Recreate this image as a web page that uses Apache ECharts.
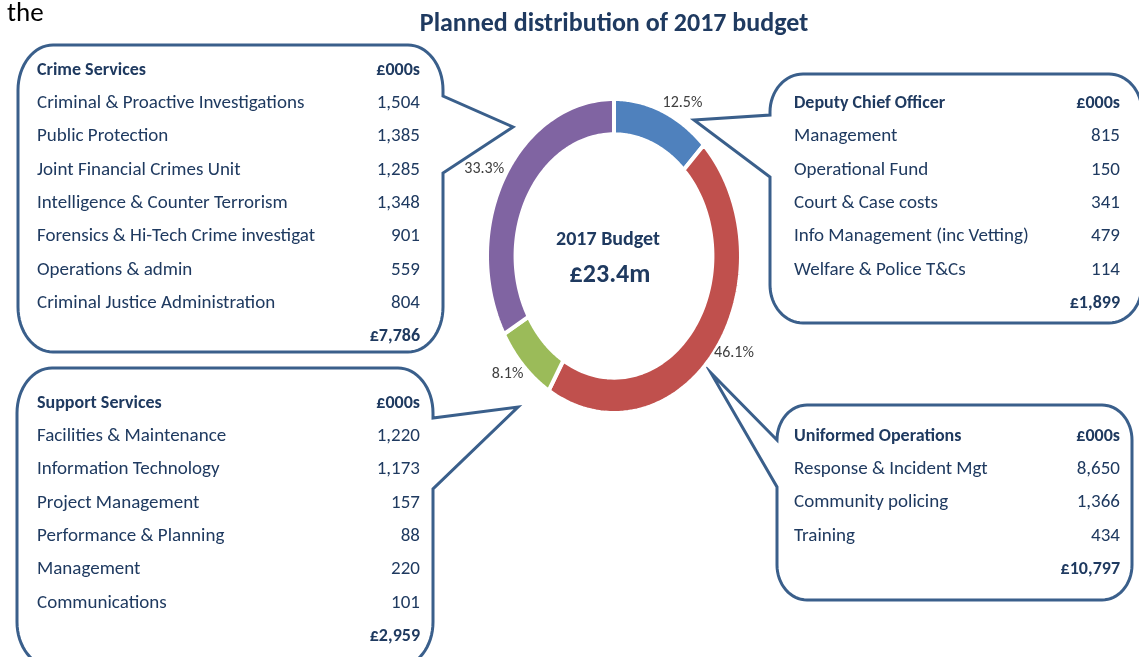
<!DOCTYPE html>
<html><head><meta charset="utf-8">
<script src="https://cdn.jsdelivr.net/npm/echarts@6/dist/echarts.min.js"></script>
<style>html,body{margin:0;padding:0;background:#fff}#c{width:1139px;height:657px}</style>
</head><body><div id="c"></div>
<script>
// ---- data ----
const sliceLabels = ['12.5%', '46.1%', '8.1%', '33.3%'];
const sliceValues = [12.5, 46.1, 8.1, 33.3];
const sliceColors = ['#4F81BD', '#C0504D', '#9BBB59', '#8064A2'];

const crimeTitle = 'Crime Services';
const crimeItems = ['Criminal & Proactive Investigations', 'Public Protection', 'Joint Financial Crimes Unit', 'Intelligence & Counter Terrorism', 'Forensics & Hi-Tech Crime investigat', 'Operations & admin', 'Criminal Justice Administration'];
const crimeValues = ['1,504', '1,385', '1,285', '1,348', '901', '559', '804'];
const crimeTotal = '£7,786';

const supportTitle = 'Support Services';
const supportItems = ['Facilities & Maintenance', 'Information Technology', 'Project Management', 'Performance & Planning', 'Management', 'Communications'];
const supportValues = ['1,220', '1,173', '157', '88', '220', '101'];
const supportTotal = '£2,959';

const dcoTitle = 'Deputy Chief Officer';
const dcoItems = ['Management', 'Operational Fund', 'Court & Case costs', 'Info Management (inc Vetting)', 'Welfare & Police T&Cs'];
const dcoValues = ['815', '150', '341', '479', '114'];
const dcoTotal = '£1,899';

const uniTitle = 'Uniformed Operations';
const uniItems = ['Response & Incident Mgt', 'Community policing', 'Training'];
const uniValues = ['8,650', '1,366', '434'];
const uniTotal = '£10,797';

const unitLabel = '£000s';
const chartTitle = 'Planned distribution of 2017 budget';
const centerLine1 = '2017 Budget';
const centerLine2 = '£23.4m';

// ---- rendering ----
const FONT = "Carlito, 'Liberation Sans Narrow', 'DejaVu Sans Condensed', Lato, sans-serif";
const NAVY = '#1F3A60';
const BORDER = '#3A5F8B';

const total = sliceValues.reduce((a, b) => a + b, 0);
const starts = [];
let acc = 0;
sliceValues.forEach(v => { starts.push(acc); acc += v; });

function arcPts(cx, cy, rx, ry, a0, a1) {
  const out = [];
  const n = 16;
  for (let k = 0; k <= n; k++) {
    const a = (a0 + (a1 - a0) * k / n) * Math.PI / 180;
    out.push([cx + rx * Math.cos(a), cy + ry * Math.sin(a)]);
  }
  return out;
}

function callout(L, T, R, B, rx, ry, side, p1, tip, p2) {
  let pts = [];
  pts = pts.concat(arcPts(R - rx, T + ry, rx, ry, -90, 0));
  if (side === 'right') pts.push([R, p1], tip, [R, p2]);
  pts = pts.concat(arcPts(R - rx, B - ry, rx, ry, 0, 90));
  pts = pts.concat(arcPts(L + rx, B - ry, rx, ry, 90, 180));
  if (side === 'left') pts.push([L, p2], tip, [L, p1]);
  pts = pts.concat(arcPts(L + rx, T + ry, rx, ry, 180, 270));
  return {
    type: 'polygon', shape: { points: pts },
    style: { fill: 'none', stroke: BORDER, lineWidth: 3, lineJoin: 'miter' }, z: 1
  };
}

function table(x0, x1, y0, step, title, items, values, tot) {
  const els = [];
  const txt = (t, x, y, bold, align) => ({
    type: 'text', z: 5,
    style: { text: t, x: x, y: y + 1, fill: NAVY, align: align, verticalAlign: 'middle',
      font: (bold ? 'bold 18px ' : '19px ') + FONT }
  });
  els.push(txt(title, x0, y0, true, 'left'));
  els.push(txt(unitLabel, x1, y0, true, 'right'));
  items.forEach((it, i) => {
    els.push(txt(it, x0, y0 + step * (i + 1), false, 'left'));
    els.push(txt(values[i], x1, y0 + step * (i + 1), false, 'right'));
  });
  els.push(txt(tot, x1, y0 + step * (items.length + 1), true, 'right'));
  return els;
}

const INNER = 0.775;
function renderItem(params, api) {
  const i = params.dataIndex;
  const a0 = starts[i] / total * Math.PI * 2;
  const a1 = (starts[i] + sliceValues[i]) / total * Math.PI * 2;
  const n = 80;
  const pts = [];
  for (let k = 0; k <= n; k++) {
    const a = a0 + (a1 - a0) * k / n;
    pts.push(api.coord([Math.sin(a), Math.cos(a)]));
  }
  for (let k = n; k >= 0; k--) {
    const a = a0 + (a1 - a0) * k / n;
    pts.push(api.coord([INNER * Math.sin(a), INNER * Math.cos(a)]));
  }
  const m = (a0 + a1) / 2;
  const lp = api.coord([Math.sin(m), Math.cos(m)]);
  const s = Math.sin(m), c = Math.cos(m);
  return {
    type: 'group',
    children: [
      { type: 'polygon', shape: { points: pts },
        style: { fill: sliceColors[i], stroke: '#fff', lineWidth: 4, lineJoin: 'round' } },
      { type: 'text', z2: 10,
        style: { text: sliceLabels[i], x: lp[0], y: lp[1],
          align: s > 0 ? 'left' : 'right',
          verticalAlign: c > 0.3 ? 'bottom' : (c < -0.65 ? 'top' : 'middle'),
          fill: '#404040', font: '16px ' + FONT } }
    ]
  };
}

const chart = echarts.init(document.getElementById('c'), null, { renderer: 'canvas' });
const graphics = [
  { type: 'text', z: 5, style: { text: 'the', x: 7, y: 14, fill: '#000', verticalAlign: 'middle', font: '27px ' + FONT } },
  { type: 'text', z: 5, style: { text: chartTitle, x: 614, y: 24, fill: NAVY, align: 'center', verticalAlign: 'middle', font: 'bold 26px ' + FONT } },
  { type: 'text', z: 5, style: { text: centerLine1, x: 608, y: 240, fill: NAVY, align: 'center', verticalAlign: 'middle', font: 'bold 20px ' + FONT } },
  { type: 'text', z: 5, style: { text: centerLine2, x: 610, y: 275, fill: NAVY, align: 'center', verticalAlign: 'middle', font: 'bold 26px ' + FONT } },
  callout(18, 45, 443, 352, 35, 45, 'right', 96, [513, 127], 173),
  callout(17, 368, 433, 667, 35, 45, 'right', 418, [518, 407], 489),
  callout(770, 74, 1142, 323, 33, 38, 'left', 115, [694, 120], 177),
  callout(777, 405, 1132, 600, 30, 35, 'left', 440, [711, 373], 487),
  ...table(37, 420, 69, 33.3, crimeTitle, crimeItems, crimeValues, crimeTotal),
  ...table(37, 420, 402, 33.3, supportTitle, supportItems, supportValues, supportTotal),
  ...table(794, 1120, 102, 33.4, dcoTitle, dcoItems, dcoValues, dcoTotal),
  ...table(794, 1120, 435, 33.3, uniTitle, uniItems, uniValues, uniTotal)
];

chart.setOption({
  animation: false,
  backgroundColor: '#fff',
  grid: { left: 487, top: 99, width: 254, height: 314 },
  xAxis: { type: 'value', min: -1, max: 1, show: false },
  yAxis: { type: 'value', min: -1, max: 1, show: false },
  series: [{
    type: 'custom', renderItem: renderItem, coordinateSystem: 'cartesian2d',
    data: sliceValues.map((v, i) => [i, v]), clip: false
  }],
  graphic: graphics
});
</script></body></html>
